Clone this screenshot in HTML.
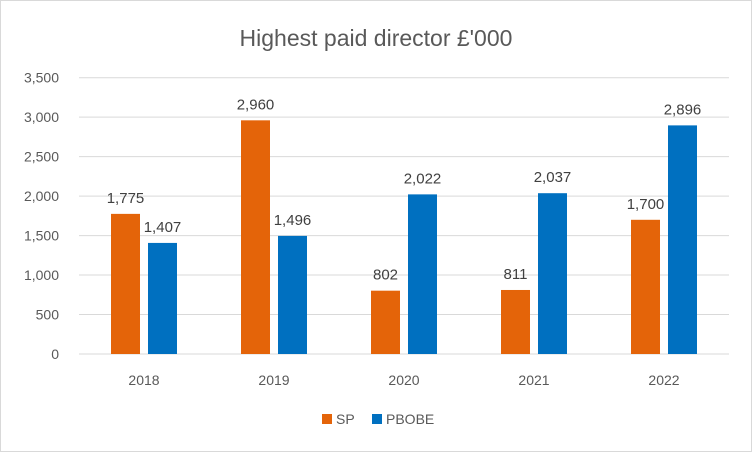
<!DOCTYPE html>
<html><head><meta charset="utf-8"><style>
body{margin:0;background:#fff;}
svg{display:block;font-family:"Liberation Sans",Arial,sans-serif;}
</style></head><body>
<svg id="c" width="752" height="452">
<rect x="0.5" y="0.5" width="751" height="451" fill="#fff" stroke="#d9d9d9"/>
<text x="376" y="46" text-anchor="middle" font-size="23" fill="#595959">Highest paid director £'000</text>
<g id="grid"></g><g id="bars"></g><g id="labels"></g>
<g>
<rect x="322" y="414" width="10" height="10" fill="#E46409"/>
<text x="336" y="424" font-size="14" fill="#595959">SP</text>
<rect x="372" y="414" width="10" height="10" fill="#0070C0"/>
<text x="386" y="424" font-size="14" fill="#595959">PBOBE</text>
</g>
</svg>
<script>
const categories=["2018","2019","2020","2021","2022"];
const spValues=[1775,2960,802,811,1700];
const pbobeValues=[1407,1496,2022,2037,2896];
const yTicks=[0,500,1000,1500,2000,2500,3000,3500];
const yTickLabels=["0","500","1,000","1,500","2,000","2,500","3,000","3,500"];
const NS="http://www.w3.org/2000/svg";
const L=79,R=729,B=354,T=77.7,yMax=3500;
const band=(R-L)/categories.length;
const y=v=>B-(v/yMax)*(B-T);
const fmt=v=>v.toLocaleString("en-US");
function mk(tag,attrs,parent){const e=document.createElementNS(NS,tag);for(const k in attrs)e.setAttribute(k,attrs[k]);document.getElementById(parent).appendChild(e);return e;}
yTicks.forEach((t,i)=>{
 const g=mk("line",{x1:L,x2:R,y1:y(t),y2:y(t),stroke:"#d9d9d9","stroke-width":1},"grid");
 
 
 const tx=mk("text",{x:59,y:y(t)+5,"text-anchor":"end","font-size":14,fill:"#595959"},"grid");
 tx.textContent=yTickLabels[i];
 
 
});
const bw=29,gap=8;
categories.forEach((c,i)=>{
 const cx=L+band*(i+0.5);
 const xs=cx-gap/2-bw, xp=cx+gap/2;
 const b1=mk("rect",{x:xs,y:y(spValues[i]),width:bw,height:B-y(spValues[i]),fill:"#E46409"},"bars");
 
 
 const b2=mk("rect",{x:xp,y:y(pbobeValues[i]),width:bw,height:B-y(pbobeValues[i]),fill:"#0070C0"},"bars");
 
 
 const l1=mk("text",{x:xs+bw/2,y:y(spValues[i])-11,"text-anchor":"middle","font-size":15,fill:"#404040"},"labels");
 l1.textContent=fmt(spValues[i]);
 
 
 const l2=mk("text",{x:xp+bw/2,y:y(pbobeValues[i])-11,"text-anchor":"middle","font-size":15,fill:"#404040"},"labels");
 l2.textContent=fmt(pbobeValues[i]);
 
 
 const xl=mk("text",{x:cx,y:385,"text-anchor":"middle","font-size":14,fill:"#595959"},"labels");
 xl.textContent=c;
 
 
});
</script>
</body></html>
